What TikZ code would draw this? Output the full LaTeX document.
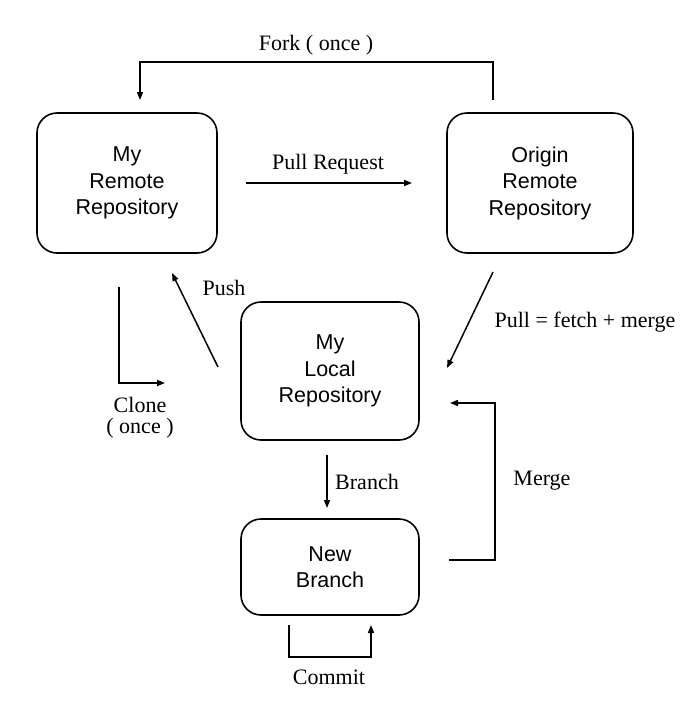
\documentclass[tikz,border=0pt]{standalone}
\usepackage{fontspec}
\setmainfont{Liberation Serif}
\newfontfamily\boxfont{Liberation Sans}
\usetikzlibrary{arrows.meta}
\begin{document}
\begin{tikzpicture}[x=1pt,y=-1pt,
  repo/.style={draw,line width=1.6pt,rounded corners=20pt,align=center,
    font=\boxfont\fontsize{21.5}{26.5}\selectfont,inner sep=0pt},
  conn/.style={line width=1.5pt,-{Triangle[length=8pt,width=6pt]}},
  lbl/.style={font=\fontsize{22}{23}\selectfont,inner sep=0pt,align=center}]
\useasboundingbox[fill=white] (0,0) rectangle (690,716);
% boxes
\node[repo,minimum width=180pt,minimum height=140pt] (remote) at (127,183) {My\\Remote\\Repository};
\node[repo,minimum width=186pt,minimum height=140pt] (origin) at (540,183) {Origin\\Remote\\Repository};
\node[repo,minimum width=178pt,minimum height=138pt] (local) at (330,371) {My\\Local\\Repository};
\node[repo,minimum width=178pt,minimum height=96pt] (newb) at (330,567) {New\\Branch};
% free ends
\coordinate (forkA) at (493,100);
\coordinate (forkB) at (140,100);
\coordinate (prA) at (246,183);
\coordinate (prB) at (412,183);
\coordinate (pushA) at (218,367);
\coordinate (pushB) at (172,273);
\coordinate (cloneA) at (119,287);
\coordinate (cloneB) at (165,383);
\coordinate (pullA) at (493,272);
\coordinate (pullB) at (447,368);
\coordinate (brA) at (327,455);
\coordinate (brB) at (327,508);
\coordinate (mgA) at (449,560);
\coordinate (mgB) at (450,403);
\coordinate (cmA) at (289,625);
\coordinate (cmB) at (371,625);
% connectors
\draw[conn] (forkA) -- (493,62) -- (140,62) -- (forkB);
\draw[conn] (prA) -- (prB);
\draw[conn] (pushA) -- (pushB);
\draw[conn] (cloneA) |- (cloneB);
\draw[conn] (pullA) -- (pullB);
\draw[conn] (brA) -- (brB);
\draw[conn] (mgA) -- (495,560) -- (495,403) -- (mgB);
\draw[conn] (cmA) -- (289,657) -- (371,657) -- (cmB);
% labels
\node[lbl] (lfork) at (316,45) {Fork ( once )};
\node[lbl] (lpr) at (328,164) {Pull Request};
\node[lbl] (lpush) at (224,288) {Push};
\node[lbl] (lclone) at (140,405) {Clone};
\node[lbl] (lonce) at (140,428) {( once )};
\node[lbl] (lpull) at (585,322) {Pull = fetch + merge};
\node[lbl] (lbr) at (367,482) {Branch};
\node[lbl] (lmg) at (542,481) {Merge};
\node[lbl] (lcm) at (329,677) {Commit};
\end{tikzpicture}
\end{document}
